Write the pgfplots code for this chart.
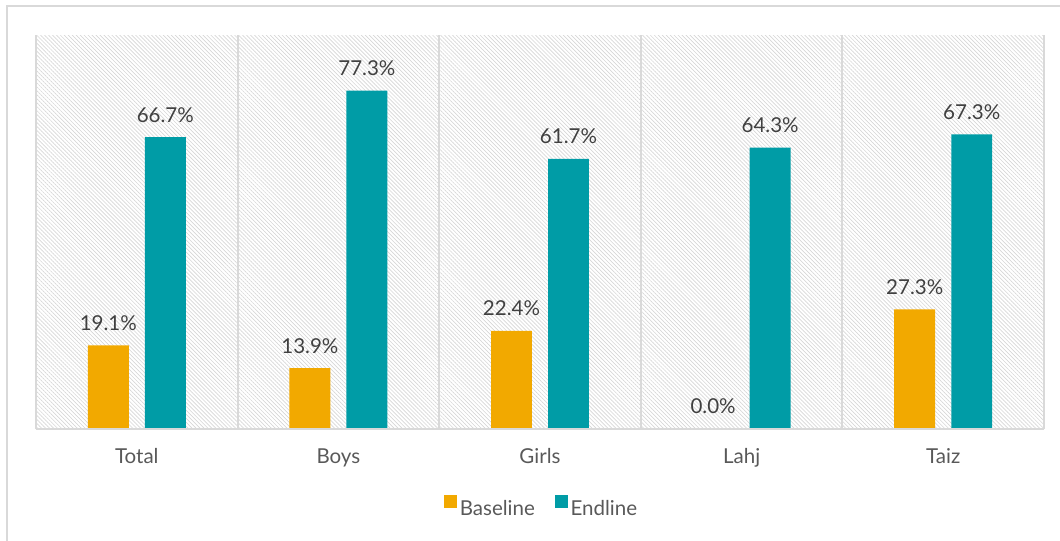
\documentclass[border=0pt]{standalone}
\usepackage{fontspec}
\setmainfont{Lato}
\usepackage{pgfplots}
\pgfplotsset{compat=1.18}
\usetikzlibrary{patterns.meta}

\definecolor{baseorange}{HTML}{F2A900}
\definecolor{endteal}{HTML}{009CA6}
\definecolor{framegray}{HTML}{D9D9D9}
\definecolor{valuegray}{HTML}{404040}
\definecolor{catgray}{HTML}{595959}
\definecolor{hatchgray}{HTML}{D6D6D6}

\newcommand{\chartfont}{\fontsize{15.4}{18}\selectfont}

\begin{document}
\begin{tikzpicture}
% page area and outer frame (1 unit = 0.75pt)
\begin{scope}[x=0.75pt,y=0.75pt]
  \path[use as bounding box] (-36,-112) rectangle (1024,429);
  \draw[framegray, line width=1.5pt] (-29,-112) -- (-29,423) -- (1024,423);
\end{scope}
\begin{axis}[
  at={(0,0)}, anchor=south west,
  width=756pt, height=295.5pt, scale only axis,
  xmin=-0.5, xmax=4.5, ymin=0, ymax=90,
  axis on top,
  axis x line*=bottom, axis y line=none,
  x axis line style={framegray, line width=1.5pt},
  axis background/.style={pattern={Lines[angle=-45,distance=2.1pt,line width=0.5pt]}, pattern color=hatchgray},
  xtick={0,...,4},
  xticklabels={Total,Boys,Girls,Lahj,Taiz},
  major tick length=0pt,
  minor xtick={-0.5,0.5,...,4.5},
  minor tick length=0pt,
  xminorgrids,
  minor grid style={framegray, line width=1.5pt},
  xticklabel style={anchor=base, yshift=-26.25pt, font=\chartfont, text=catgray},
  ytick=\empty,
  ybar, bar width=0.203,
  nodes near coords={\pgfmathprintnumber[fixed,fixed zerofill,precision=1,assume math mode=true]{\pgfplotspointmeta}\%},
  every node near coord/.append style={anchor=base, yshift=11.25pt, inner sep=0pt, font=\chartfont, text=valuegray},
  legend style={at={(0.502,-0.199)}, anchor=center, draw=none, fill=none,
    font=\chartfont, text=catgray, legend columns=-1,
    /tikz/every even column/.append style={column sep=13pt}},
  legend image code/.code={\fill[#1] (0pt,0.5pt) rectangle (9.75pt,10.25pt);},
]
\addplot[draw=none, fill=baseorange, bar shift=-0.1414] coordinates {
  (0,19.1) (1,13.9) (2,22.4) (3,0.0) (4,27.3)};
\addplot[draw=none, fill=endteal, bar shift=0.1414] coordinates {
  (0,66.7) (1,77.3) (2,61.7) (3,64.3) (4,67.3)};
\legend{Baseline,Endline}
\end{axis}
\end{tikzpicture}
\end{document}
